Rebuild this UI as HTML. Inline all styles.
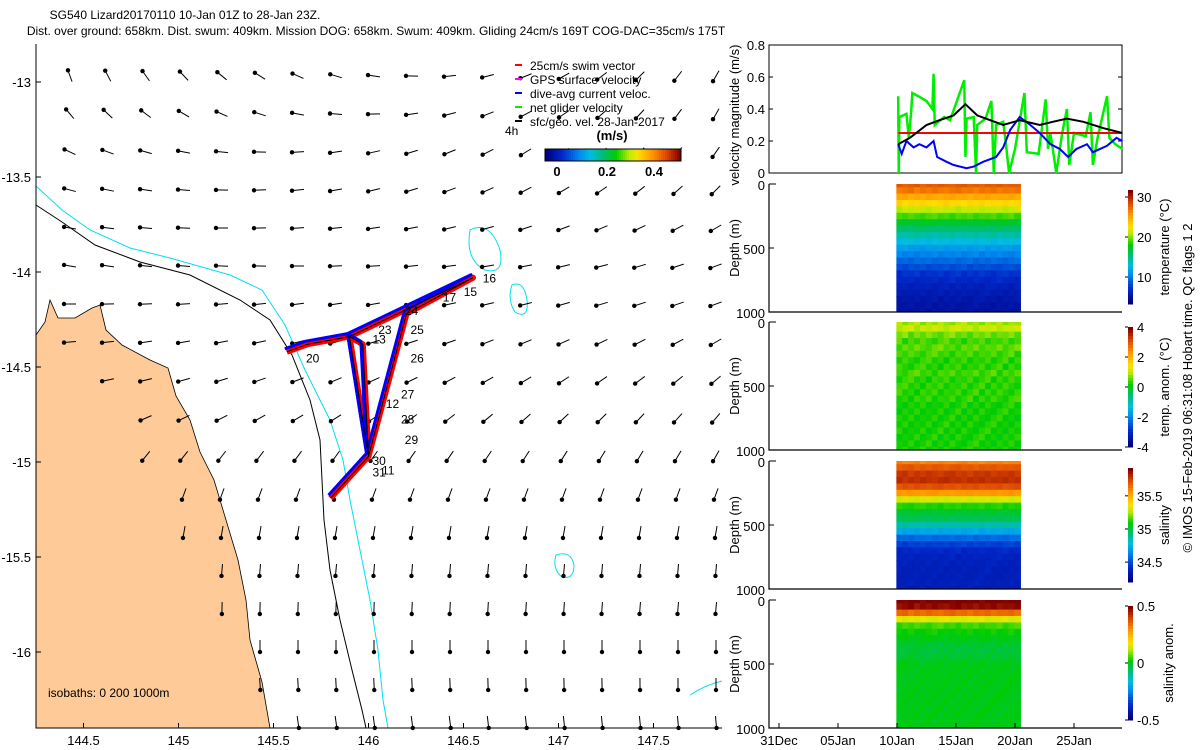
<!DOCTYPE html>
<html><head><meta charset="utf-8"><style>
body{margin:0;background:#fff;}
svg{display:block;font-family:"Liberation Sans",sans-serif;}
</style></head><body>
<svg id="fig" width="1200" height="750" xmlns="http://www.w3.org/2000/svg">
<g id="map"></g>
<g id="vel"></g>
<g id="sec"></g>
</svg>
<script>
// ---- velocity data (days since 31 Dec) ----
const blueDays=[10.1,10.4,10.8,11.4,11.9,12.5,13.1,13.4,14.2,14.8,15.9,16.5,17.3,18.4,19.0,19.6,20.4,21.3,22.1,23.0,23.8,24.5,25.2,26.1,26.6,27.8,28.6,29.1];
const blueVals=[0.18,0.12,0.2,0.16,0.18,0.16,0.2,0.1,0.07,0.05,0.03,0.04,0.07,0.1,0.16,0.27,0.35,0.3,0.25,0.18,0.15,0.1,0.15,0.18,0.13,0.17,0.22,0.2];
const blackDays=[10.1,11.1,12.5,13.6,14.8,15.8,16.8,17.9,19.0,20.4,22.1,23.2,24.4,25.8,27.5,29.1];
const blackVals=[0.18,0.22,0.3,0.33,0.36,0.43,0.36,0.33,0.3,0.33,0.3,0.32,0.34,0.32,0.28,0.25];
const greenDays=[10.1,10.15,10.2,10.8,11.0,11.2,11.3,11.8,12.5,13.0,13.1,13.2,13.5,14.0,14.5,15.7,15.8,15.9,16.5,16.7,16.8,17.5,18.0,18.2,18.4,19.0,19.2,19.5,20.0,20.8,21.0,22.0,22.6,22.8,23.0,23.5,24.0,24.4,24.6,25.0,26.0,26.4,26.6,27.0,27.8,28.0,28.5,29.1];
const greenVals=[0.48,0,0.35,0.37,0.22,0.38,0.5,0.48,0.45,0.4,0.62,0.3,0.32,0.35,0.33,0.58,0.1,0.34,0.35,0,0.3,0.34,0.45,0,0.3,0.32,0.2,0,0.15,0.5,0.13,0.12,0.46,0.15,0.25,0,0.25,0.4,0.05,0.25,0.23,0.38,0.05,0.22,0.48,0.22,0.18,0.15];
const swimSpeed=0.25;
const velTicks=[0,0.2,0.4,0.6,0.8];
const dateTicks=[0,5,10,15,20,25];
const dateLabels=["31Dec","05Jan","10Jan","15Jan","20Jan","25Jan"];
// ---- section profiles (every 50 m, 0..1000 m) ----
const depths=[0,50,100,150,200,250,300,350,400,450,500,550,600,650,700,750,800,850,900,950,1000];
const tempProf=[28,27,25,23,21,19,17,15.5,14,12.5,11,10,9,8,7,6.5,6,5.6,5.3,5,4.8];
const tanomProf=[0.8,1.0,0.6,0.4,0.5,0.4,0.3,0.3,0.4,0.3,0.3,0.3,0.3,0.2,0.2,0.2,0.2,0.2,0.2,0.2,0.2];
const salProf=[35.6,35.7,35.78,35.8,35.72,35.55,35.3,35.12,35.02,34.97,34.85,34.7,34.55,34.46,34.4,34.38,34.37,34.36,34.36,34.36,34.36];
const sanomProf=[0.5,0.48,0.35,0.15,0.05,0.02,0,-0.02,-0.03,-0.02,0,0,0,0,0,0,0,0,0,0,0];
const colDays=[10.2,10.7,11.2,11.7,12.2,12.7,13.2,13.7,14.2,14.7,15.2,15.7,16.2,16.7,17.2,17.7,18.2,18.7,19.2,19.7,20.2];
const colJitter=[0.3,-0.2,0.1,0.4,-0.3,0.2,-0.1,0.3,0,-0.2,0.2,0.4,-0.1,0.1,-0.3,0.2,0,0.3,-0.2,0.1,0];
// ---- map data ----
const latTicks=[-13,-13.5,-14,-14.5,-15,-15.5,-16];
const lonTicks=[144.5,145,145.5,146,146.5,147,147.5];
const trackLon=[145.57,145.68,145.9,146.55,146.2,146.0,145.97,145.9,146.0,145.8];
const trackLat=[-14.42,-14.38,-14.34,-14.03,-14.22,-14.97,-14.38,-14.34,-14.97,-15.19];
const wpLabels=["16","15","17","24","25","26","27","12","28","29","30","31","13","20","23","11"];
const wpLon=[146.58,146.48,146.37,146.17,146.2,146.2,146.15,146.07,146.15,146.17,146.0,146.0,146.0,145.65,146.03,146.05];
const wpLat=[-14.03,-14.1,-14.13,-14.2,-14.3,-14.45,-14.64,-14.69,-14.77,-14.88,-14.99,-15.05,-14.35,-14.45,-14.3,-15.04];
const rowAngW=[110,130,155,165,170,170,180,185,190,200,230,250,260,265,270,270,275,280];
const rowAngE=[240,240,235,225,210,200,200,210,220,230,240,250,260,265,265,270,270,275];

const NS="http://www.w3.org/2000/svg";
function mk(p,t,a,txt){const e=document.createElementNS(NS,t);for(const k in a)e.setAttribute(k,a[k]);if(txt!==undefined)e.textContent=txt;p.appendChild(e);return e;}
const CM=[[0,0,0,128],[0.12,0,40,200],[0.25,0,140,240],[0.33,0,190,225],[0.42,0,190,120],[0.52,0,205,0],[0.62,190,235,0],[0.68,255,225,0],[0.8,255,145,0],[0.9,220,70,0],[1,128,0,0]];
function jet(v){v=Math.max(0,Math.min(1,v));for(let i=1;i<CM.length;i++){if(v<=CM[i][0]){const a=CM[i-1],b=CM[i],f=(v-a[0])/(b[0]-a[0]);return `rgb(${a[1]+(b[1]-a[1])*f|0},${a[2]+(b[2]-a[2])*f|0},${a[3]+(b[3]-a[3])*f|0})`;}}return 'rgb(128,0,0)';}

// ===== MAP =====
const M=document.getElementById('map');
const mx=lon=>36+(lon-144.25)*190;
const my=lat=>82+(-13-lat)*190;
let t=mk(M,'text',{x:185,y:19,'font-size':12,'text-anchor':'middle'},"SG540 Lizard20170110 10-Jan 01Z to 28-Jan 23Z.");

t=mk(M,'text',{x:376,y:35,'font-size':12,'text-anchor':'middle'},"Dist. over ground: 658km. Dist. swum: 409km. Mission DOG: 658km. Swum: 409km. Gliding 24cm/s 169T COG-DAC=35cm/s 175T");

const landPts="36,335 45,322 50,300 58,318 75,318 92,308 100,305 106,330 122,345 150,360 168,368 176,396 190,420 200,452 214,480 226,520 238,560 246,600 250,640 262,682 270,728 36,728";
let land=mk(M,'polygon',{points:landPts,fill:'#fdca98',stroke:'#000','stroke-width':0.8});

const landX=y=>{if(y<300)return 0;return 36+(y-300)*0.55;};
let iso2=mk(M,'polyline',{points:"36,186 62,210 90,230 130,248 170,258 230,275 262,290 285,325 305,370 330,420 343,460 350,500 360,550 370,600 378,650 383,700 388,728",fill:'none',stroke:'#00e0f0','stroke-width':1});

let iso1=mk(M,'polyline',{points:"36,205 62,222 95,245 140,262 190,275 240,300 270,320 292,355 310,400 320,440 322,480 324,520 330,570 340,620 352,670 362,710 366,728",fill:'none',stroke:'#000','stroke-width':1});

["M470,230 q20,-10 30,20 q5,25 -15,20 q-20,-10 -15,-40z","M512,285 q12,-5 15,15 q2,20 -12,12 q-8,-12 -3,-27z","M556,555 q15,-5 18,10 q0,15 -12,12 q-10,-8 -6,-22z","M690,695 q15,-10 32,-14"].forEach(d=>{
 const p=mk(M,'path',{d:d,fill:'none',stroke:'#00e0f0','stroke-width':1});
 });
for(let r=0;r<18;r++){for(let c=0;c<18;c++){
 const x=70+c*38,y=76+r*38;if(x<landX(y)+8)continue;
 const f=c/17,ang=(rowAngW[r]*(1-f)+rowAngE[r]*f)*Math.PI/180,L=12;
 const hx=x+Math.cos(ang)*L/2,hy=y-Math.sin(ang)*L/2,tx=x-Math.cos(ang)*L/2,ty=y+Math.sin(ang)*L/2;
 const g=mk(M,'g',{});
 
 mk(g,'line',{x1:tx,y1:ty,x2:hx,y2:hy,stroke:'#000','stroke-width':1});
 mk(g,'circle',{cx:hx,cy:hy,r:2.2,fill:'#000'});
}}
const tp=trackLon.map((l,i)=>`${mx(l)},${my(trackLat[i])}`).join(' ');
let tr=mk(M,'polyline',{points:tp,fill:'none',stroke:'#ff0000','stroke-width':6,'stroke-linejoin':'round'});

const tpb=trackLon.map((l,i)=>`${mx(l)-2},${my(trackLat[i])-3}`).join(' ');
tr=mk(M,'polyline',{points:tpb,fill:'none',stroke:'#0000ff','stroke-width':3,'stroke-linejoin':'round'});

tr=mk(M,'polyline',{points:tp,fill:'none',stroke:'#000','stroke-width':1});

wpLabels.forEach((s,i)=>{const e=mk(M,'text',{x:mx(wpLon[i])+4,y:my(wpLat[i])+5,'font-size':12},s);
 });
let ax=mk(M,'path',{d:"M36,44 V728 H722",fill:'none',stroke:'#000','stroke-width':1});

latTicks.forEach(v=>{const y=my(v);mk(M,'line',{x1:36,x2:41,y1:y,y2:y,stroke:'#000'});
 const e=mk(M,'text',{x:31,y:y+5,'font-size':13,'text-anchor':'end'},String(v));
 });
lonTicks.forEach(v=>{const x=mx(v);mk(M,'line',{x1:x,x2:x,y1:728,y2:723,stroke:'#000'});
 const e=mk(M,'text',{x:x,y:745,'font-size':13,'text-anchor':'middle'},String(v));
 });
t=mk(M,'text',{x:48,y:697,'font-size':12},"isobaths: 0   200  1000m");t.setAttribute('xml:space','preserve');

const leg=[["#ff0000","25cm/s swim vector"],["#ff00ff","GPS surface velocity"],["#0000ff","dive-avg current veloc."],["#00ee00","net glider velocity"],["#000","sfc/geo. vel. 28-Jan-2017"]];
leg.forEach((l,i)=>{const g=mk(M,'g',{});
 mk(g,'line',{x1:515,x2:522,y1:65+i*14,y2:65+i*14,stroke:l[0],'stroke-width':2});
 mk(g,'text',{x:530,y:70+i*14,'font-size':12},l[1]);});
t=mk(M,'text',{x:505,y:135,'font-size':12},"4h");
t=mk(M,'text',{x:612,y:140,'font-size':13,'font-weight':'bold','text-anchor':'middle'},"(m/s)");
const cbG=mk(M,'g',{});
for(let i=0;i<68;i++)mk(cbG,'rect',{x:545+i*2,y:149,width:2.2,height:12,fill:jet(i/67)});
mk(cbG,'rect',{x:545,y:149,width:136,height:12,fill:'none',stroke:'#000'});
[[557,"0"],[607,"0.2"],[654,"0.4"]].forEach(a=>{mk(cbG,'text',{x:a[0],y:176,'font-size':13,'font-weight':'bold','text-anchor':'middle'},a[1]);});

// ===== VELOCITY PANEL =====
const V=document.getElementById('vel');
const dx=d=>779+d*11.8;
const vy=v=>173-v*160;
ax=mk(V,'rect',{x:769,y:45,width:353,height:128,fill:'none',stroke:'#000'});

velTicks.forEach(v=>{mk(V,'line',{x1:769,x2:773,y1:vy(v),y2:vy(v),stroke:'#000'});mk(V,'line',{x1:1122,x2:1118,y1:vy(v),y2:vy(v),stroke:'#000'});
 const e=mk(V,'text',{x:765,y:vy(v)+5,'font-size':13,'text-anchor':'end'},String(v));
 });
t=mk(V,'text',{x:0,y:0,'font-size':13,'text-anchor':'middle',transform:'translate(739,115) rotate(-90)'},"velocity magnitude (m/s)");

function line(days,vals,col,w,name){const p=mk(V,'polyline',{points:days.map((d,i)=>`${dx(d)},${vy(vals[i])}`).join(' '),fill:'none',stroke:col,'stroke-width':w});
 }
line(greenDays,greenVals,'#00ee00',2.5,'net-glider-velocity-line');
let sw=mk(V,'line',{x1:dx(10.1),x2:1122,y1:vy(swimSpeed),y2:vy(swimSpeed),stroke:'#ff0000','stroke-width':2});

line(blueDays,blueVals,'#0000ff',2,'current-velocity-line');
line(blackDays,blackVals,'#000',2,'surface-velocity-line');

// ===== SECTIONS =====
const S=document.getElementById('sec');
const panels=[
 {top:184,prof:tempProf,lo:3.25,hi:31.75,jit:1,cb:[190,304],ticks:[[30,"30"],[20,"20"],[10,"10"]],label:"temperature (°C)",name:'temperature'},
 {top:322,prof:tanomProf,lo:-4,hi:4,jit:0.5,cb:[327,447],ticks:[[4,"4"],[2,"2"],[0,"0"],[-2,"-2"],[-4,"-4"]],label:"temp. anom. (°C)",name:'temp-anomaly'},
 {top:461,prof:salProf,lo:34.2,hi:35.92,jit:0.05,cb:[468,582],ticks:[[35.5,"35.5"],[35,"35"],[34.5,"34.5"]],label:"salinity",name:'salinity'},
 {top:600,prof:sanomProf,lo:-0.5,hi:0.5,jit:0.04,cb:[606,720],ticks:[[0.5,"0.5"],[0,"0"],[-0.5,"-0.5"]],label:"salinity anom.",name:'salinity-anomaly'}];
panels.forEach((P,pi)=>{
 const g=mk(S,'g',{});
 const h=128, dy=d=>P.top+d/1000*h;
 colDays.forEach((cd,ci)=>{depths.forEach((d,di)=>{
  const v=P.prof[di]+colJitter[(ci+di)%colJitter.length]*P.jit;
  const x0=dx(cd)-3, y0=dy(Math.max(0,d-25)), y1=dy(Math.min(1000,d+25));
  const r=mk(g,'rect',{x:x0,y:y0,width:6.6,height:y1-y0+0.5,fill:jet((v-P.lo)/(P.hi-P.lo))});
  
 });});
 mk(g,'path',{d:`M769,${P.top} V${P.top+h} H1122`,fill:'none',stroke:'#000','stroke-width':1.2});
 mk(g,'line',{x1:769,x2:776,y1:P.top,y2:P.top,stroke:'#000'});
 [[0,"0"],[500,"500"],[1000,"1000"]].forEach(a=>{mk(g,'line',{x1:769,x2:774,y1:dy(a[0]),y2:dy(a[0]),stroke:'#000'});
  const e=mk(g,'text',{x:765,y:dy(a[0])+6,'font-size':13,'text-anchor':'end'},a[1]);
  });
 const yt=mk(g,'text',{x:0,y:0,'font-size':13,'text-anchor':'middle',transform:`translate(739,${P.top+64}) rotate(-90)`},"Depth (m)");
 
 const cb=mk(S,'g',{});
 const c0=P.cb[0],c1=P.cb[1],n=40;
 for(let i=0;i<n;i++)mk(cb,'rect',{x:1128,y:c0+(c1-c0)*i/n,width:5,height:(c1-c0)/n+0.5,fill:jet(1-i/(n-1))});
 P.ticks.forEach(a=>{const y=c1-(a[0]-P.lo)/(P.hi-P.lo)*(c1-c0);mk(cb,'line',{x1:1125,x2:1128,y1:y,y2:y,stroke:'#000'});
  mk(cb,'text',{x:1137,y:y+5,'font-size':13},a[1]);});
 mk(cb,'text',{x:0,y:0,'font-size':13,'text-anchor':'middle',transform:`translate(${pi==3?1173:1169},${(c0+c1)/2}) rotate(-90)`},P.label);
});
dateTicks.forEach((d,i)=>{mk(S,'line',{x1:dx(d),x2:dx(d),y1:728,y2:723,stroke:'#000'});
 const e=mk(S,'text',{x:dx(d),y:745,'font-size':13,'text-anchor':'middle'},dateLabels[i]);
 });
t=mk(S,'text',{x:0,y:0,'font-size':13,'text-anchor':'middle',transform:'translate(1192,388) rotate(-90)'},"© IMOS 15-Feb-2019 06:31:08 Hobart time. QC flags 1  2");
t.setAttribute('xml:space','preserve');

</script>
</body></html>
